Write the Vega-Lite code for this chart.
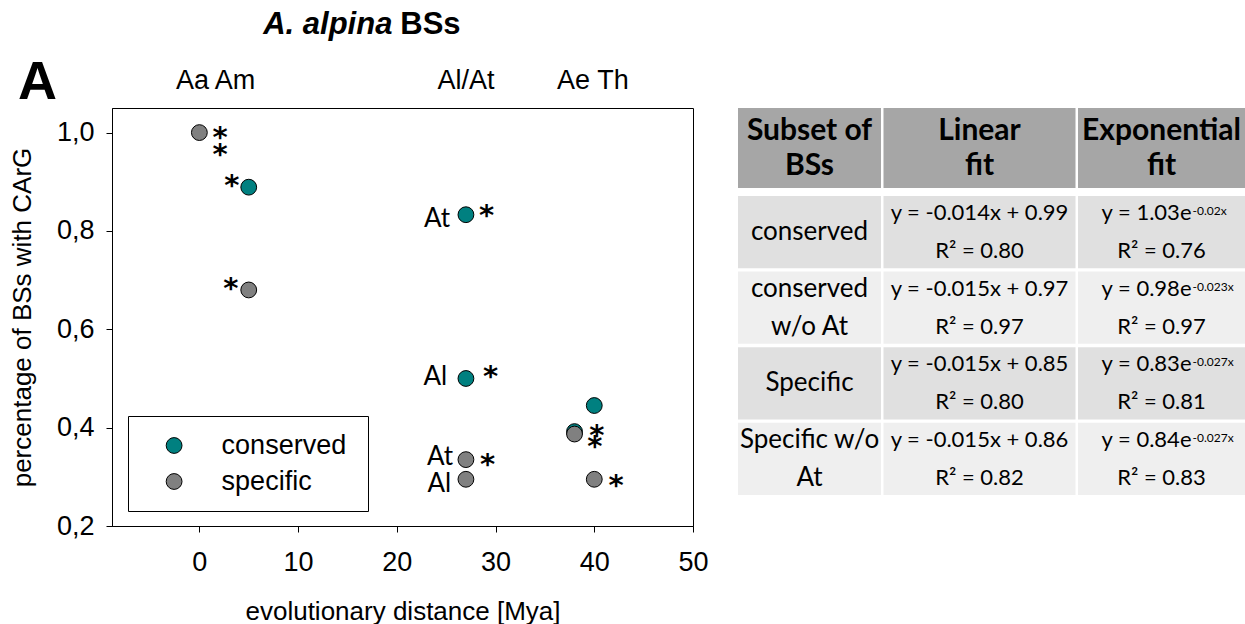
{
  "$schema": "https://vega.github.io/schema/vega-lite/v6.json",
  "background": "white",
  "padding": {"left": 8, "top": 8, "right": 0, "bottom": 0},
  "bounds": "flush",
  "spacing": 45,
  "config": {
    "view": {"stroke": null},
    "font": "Liberation Sans",
    "axisX": {
      "grid": false, "labelFlush": false,
      "domainColor": "black", "tickColor": "black", "tickSize": 6,
      "labelFont": "Liberation Sans", "labelFontSize": 27, "labelColor": "black", "labelPadding": 17,
      "titleFont": "Liberation Sans", "titleFontSize": 26, "titleFontWeight": "normal", "titleColor": "black", "titlePadding": 23
    },
    "axisY": {
      "grid": false, "labelFlush": false,
      "domainColor": "black", "tickColor": "black", "tickSize": 6,
      "labelFont": "Liberation Sans", "labelFontSize": 27, "labelColor": "black", "labelPadding": 12,
      "titleFont": "Liberation Sans", "titleFontSize": 26, "titleFontWeight": "normal", "titleColor": "black", "titlePadding": 21
    }
  },
  "datasets": {
    "points": [
      {"subset": "conserved", "mya": 5, "share": 0.889},
      {"subset": "conserved", "mya": 27, "share": 0.833},
      {"subset": "conserved", "mya": 27, "share": 0.5},
      {"subset": "conserved", "mya": 38, "share": 0.392},
      {"subset": "conserved", "mya": 40, "share": 0.445},
      {"subset": "specific", "mya": 0, "share": 1.0},
      {"subset": "specific", "mya": 5, "share": 0.68},
      {"subset": "specific", "mya": 27, "share": 0.335},
      {"subset": "specific", "mya": 27, "share": 0.295},
      {"subset": "specific", "mya": 38, "share": 0.387},
      {"subset": "specific", "mya": 40, "share": 0.295}
    ],
    "stars": [
      {"mya": 2.1, "share": 0.999},
      {"mya": 2.1, "share": 0.965},
      {"mya": 3.28, "share": 0.902},
      {"mya": 3.18, "share": 0.692},
      {"mya": 29.1, "share": 0.841},
      {"mya": 29.5, "share": 0.513},
      {"mya": 29.2, "share": 0.335},
      {"mya": 40.25, "share": 0.393},
      {"mya": 40.05, "share": 0.371},
      {"mya": 42.2, "share": 0.292}
    ],
    "pointLabels": [
      {"label": "At", "mya": 25.4, "share": 0.825},
      {"label": "Al", "mya": 25.1, "share": 0.503},
      {"label": "At", "mya": 25.7, "share": 0.34},
      {"label": "Al", "mya": 25.5, "share": 0.285}
    ],
    "species": [
      {"label": "Aa", "mya": -0.7},
      {"label": "Am", "mya": 3.6},
      {"label": "Al/At", "mya": 27},
      {"label": "Ae", "mya": 37.9},
      {"label": "Th", "mya": 41.9}
    ],
    "fits": [
      {"row": 1, "subset": "conserved", "linear": "y = -0.014x + 0.99\nR² = 0.80", "expBase": "y = 1.03e", "expPow": "-0.02x", "expR2": "R² = 0.76"},
      {"row": 2, "subset": "conserved\nw/o At", "linear": "y = -0.015x + 0.97\nR² = 0.97", "expBase": "y = 0.98e", "expPow": "-0.023x", "expR2": "R² = 0.97"},
      {"row": 3, "subset": "Specific", "linear": "y = -0.015x + 0.85\nR² = 0.80", "expBase": "y = 0.83e", "expPow": "-0.027x", "expR2": "R² = 0.81"},
      {"row": 4, "subset": "Specific w/o\nAt", "linear": "y = -0.015x + 0.86\nR² = 0.82", "expBase": "y = 0.84e", "expPow": "-0.027x", "expR2": "R² = 0.83"}
    ]
  },
  "hconcat": [
    {
      "width": 581,
      "height": 418,
      "view": {"stroke": "black", "strokeWidth": 1},
      "layer": [
        {
          "data": {"name": "points"},
          "mark": {"type": "point", "shape": "circle", "filled": true, "size": 250, "stroke": "black", "strokeWidth": 1, "opacity": 1},
          "encoding": {
            "x": {"field": "mya", "type": "quantitative", "scale": {"domain": [-8.85, 50], "nice": false, "zero": false},
              "axis": {"title": "evolutionary distance [Mya]", "values": [0, 10, 20, 30, 40, 50]}},
            "y": {"field": "share", "type": "quantitative", "scale": {"domain": [0.2, 1.05], "nice": false, "zero": false},
              "axis": {"title": "percentage of BSs with CArG", "values": [0.2, 0.4, 0.6, 0.8, 1.0], "labelExpr": "replace(format(datum.value, '.1f'), '.', ',')"}},
            "fill": {
              "field": "subset", "type": "nominal",
              "scale": {"domain": ["conserved", "specific"], "range": ["#008080", "#808080"]},
              "legend": {
                "title": "\u00a0", "titleOrient": "right", "titleFontSize": 8, "titlePadding": 6,
                "orient": "none", "legendX": 16, "legendY": 308,
                "strokeColor": "black", "fillColor": "white", "padding": 16,
                "symbolType": "circle", "symbolSize": 250, "symbolStrokeColor": "black", "symbolStrokeWidth": 1, "symbolOffset": 16.6,
                "labelFont": "Liberation Sans", "labelFontSize": 27, "labelColor": "black", "labelOffset": 34,
                "rowPadding": 8
              }
            }
          }
        },
        {
          "data": {"name": "stars"},
          "mark": {"type": "text", "font": "DejaVu Sans", "fontWeight": "bold", "fontSize": 29, "align": "center", "baseline": "middle", "dy": 5, "color": "black"},
          "encoding": {
            "x": {"field": "mya", "type": "quantitative", "scale": {"domain": [-8.85, 50], "nice": false, "zero": false},
              "axis": {"title": "evolutionary distance [Mya]", "values": [0, 10, 20, 30, 40, 50]}},
            "y": {"field": "share", "type": "quantitative", "scale": {"domain": [0.2, 1.05], "nice": false, "zero": false},
              "axis": {"title": "percentage of BSs with CArG", "values": [0.2, 0.4, 0.6, 0.8, 1.0], "labelExpr": "replace(format(datum.value, '.1f'), '.', ',')"}},
            "text": {"value": "*"}
          }
        },
        {
          "data": {"name": "pointLabels"},
          "mark": {"type": "text", "font": "Lato", "fontSize": 26, "align": "right", "baseline": "middle", "color": "black"},
          "encoding": {
            "x": {"field": "mya", "type": "quantitative", "scale": {"domain": [-8.85, 50], "nice": false, "zero": false},
              "axis": {"title": "evolutionary distance [Mya]", "values": [0, 10, 20, 30, 40, 50]}},
            "y": {"field": "share", "type": "quantitative", "scale": {"domain": [0.2, 1.05], "nice": false, "zero": false},
              "axis": {"title": "percentage of BSs with CArG", "values": [0.2, 0.4, 0.6, 0.8, 1.0], "labelExpr": "replace(format(datum.value, '.1f'), '.', ',')"}},
            "text": {"field": "label"}
          }
        },
        {
          "data": {"name": "species"},
          "mark": {"type": "text", "clip": false, "font": "Liberation Sans", "fontSize": 27, "align": "center", "baseline": "alphabetic", "color": "black"},
          "encoding": {
            "x": {"field": "mya", "type": "quantitative", "scale": {"domain": [-8.85, 50], "nice": false, "zero": false},
              "axis": {"title": "evolutionary distance [Mya]", "values": [0, 10, 20, 30, 40, 50]}},
            "y": {"datum": 1.089, "type": "quantitative", "scale": {"domain": [0.2, 1.05], "nice": false, "zero": false},
              "axis": {"title": "percentage of BSs with CArG", "values": [0.2, 0.4, 0.6, 0.8, 1.0], "labelExpr": "replace(format(datum.value, '.1f'), '.', ',')"}},
            "text": {"field": "label"}
          }
        },
        {
          "data": {"values": [{"t": "A. alpina"}]},
          "mark": {"type": "text", "clip": false, "font": "Liberation Sans", "fontSize": 31, "fontWeight": "bold", "fontStyle": "italic", "align": "right", "baseline": "alphabetic", "color": "black"},
          "encoding": {
            "x": {"datum": 19.55, "type": "quantitative", "scale": {"domain": [-8.85, 50], "nice": false, "zero": false},
              "axis": {"title": "evolutionary distance [Mya]", "values": [0, 10, 20, 30, 40, 50]}},
            "y": {"datum": 1.2, "type": "quantitative", "scale": {"domain": [0.2, 1.05], "nice": false, "zero": false},
              "axis": {"title": "percentage of BSs with CArG", "values": [0.2, 0.4, 0.6, 0.8, 1.0], "labelExpr": "replace(format(datum.value, '.1f'), '.', ',')"}},
            "text": {"field": "t"}
          }
        },
        {
          "data": {"values": [{"t": "BSs"}]},
          "mark": {"type": "text", "clip": false, "font": "Liberation Sans", "fontSize": 31, "fontWeight": "bold", "align": "left", "baseline": "alphabetic", "color": "black"},
          "encoding": {
            "x": {"datum": 20.35, "type": "quantitative", "scale": {"domain": [-8.85, 50], "nice": false, "zero": false},
              "axis": {"title": "evolutionary distance [Mya]", "values": [0, 10, 20, 30, 40, 50]}},
            "y": {"datum": 1.2, "type": "quantitative", "scale": {"domain": [0.2, 1.05], "nice": false, "zero": false},
              "axis": {"title": "percentage of BSs with CArG", "values": [0.2, 0.4, 0.6, 0.8, 1.0], "labelExpr": "replace(format(datum.value, '.1f'), '.', ',')"}},
            "text": {"field": "t"}
          }
        },
        {
          "data": {"values": [{"t": "A"}]},
          "mark": {"type": "text", "clip": false, "font": "Liberation Sans", "fontSize": 54, "fontWeight": "bold", "align": "left", "baseline": "alphabetic", "color": "black"},
          "encoding": {
            "x": {"datum": -18.37, "type": "quantitative", "scale": {"domain": [-8.85, 50], "nice": false, "zero": false},
              "axis": {"title": "evolutionary distance [Mya]", "values": [0, 10, 20, 30, 40, 50]}},
            "y": {"datum": 1.068, "type": "quantitative", "scale": {"domain": [0.2, 1.05], "nice": false, "zero": false},
              "axis": {"title": "percentage of BSs with CArG", "values": [0.2, 0.4, 0.6, 0.8, 1.0], "labelExpr": "replace(format(datum.value, '.1f'), '.', ',')"}},
            "text": {"field": "t"}
          }
        }
      ]
    },
    {
      "spacing": 8,
      "vconcat": [
        {
          "bounds": "flush",
          "spacing": 2.5,
          "hconcat": [
            {
              "width": 143, "height": 80,
              "data": {"values": [{"h": "Subset of\nBSs"}]},
              "layer": [
                {"mark": {"type": "rect", "color": "#a6a6a6"}, "encoding": {"x": {"value": 0}, "x2": {"value": "width"}, "y": {"value": 0}, "y2": {"value": "height"}}},
                {"mark": {"type": "text", "font": "Lato", "fontWeight": "bold", "fontSize": 30, "lineHeight": 35, "lineBreak": "\n", "baseline": "middle", "dy": -17.5, "color": "black"}, "encoding": {"text": {"field": "h"}}}
              ]
            },
            {
              "width": 192, "height": 80,
              "data": {"values": [{"h": "Linear\nfit"}]},
              "layer": [
                {"mark": {"type": "rect", "color": "#a6a6a6"}, "encoding": {"x": {"value": 0}, "x2": {"value": "width"}, "y": {"value": 0}, "y2": {"value": "height"}}},
                {"mark": {"type": "text", "font": "Lato", "fontWeight": "bold", "fontSize": 30, "lineHeight": 35, "lineBreak": "\n", "baseline": "middle", "dy": -17.5, "color": "black"}, "encoding": {"text": {"field": "h"}}}
              ]
            },
            {
              "width": 167, "height": 80,
              "data": {"values": [{"h": "Exponential\nfit"}]},
              "layer": [
                {"mark": {"type": "rect", "color": "#a6a6a6"}, "encoding": {"x": {"value": 0}, "x2": {"value": "width"}, "y": {"value": 0}, "y2": {"value": "height"}}},
                {"mark": {"type": "text", "font": "Lato", "fontWeight": "bold", "fontSize": 30, "lineHeight": 35, "lineBreak": "\n", "baseline": "middle", "dy": -17.5, "color": "black"}, "encoding": {"text": {"field": "h"}}}
              ]
            }
          ]
        },
        {
          "bounds": "flush",
          "spacing": 2.5,
          "hconcat": [
            {
              "width": 143, "height": 299,
              "data": {"name": "fits"},
              "encoding": {"y": {"field": "row", "type": "ordinal", "axis": null, "scale": {"paddingInner": 0.046, "paddingOuter": 0}}},
              "layer": [
                {"mark": {"type": "rect"}, "encoding": {"x": {"value": 0}, "x2": {"value": "width"}, "color": {"condition": {"test": "datum.row % 2 == 1", "value": "#e0e0e0"}, "value": "#efefef"}}},
                {"transform": [{"filter": "indexof(datum.subset, '\\n') < 0"}], "mark": {"type": "text", "font": "Lato", "fontSize": 26, "baseline": "middle", "color": "black"}, "encoding": {"text": {"field": "subset"}}},
                {"transform": [{"filter": "indexof(datum.subset, '\\n') >= 0"}], "mark": {"type": "text", "font": "Lato", "fontSize": 26, "lineHeight": 38, "lineBreak": "\n", "baseline": "middle", "dy": -19, "color": "black"}, "encoding": {"text": {"field": "subset"}}}
              ]
            },
            {
              "width": 192, "height": 299,
              "data": {"name": "fits"},
              "encoding": {"y": {"field": "row", "type": "ordinal", "axis": null, "scale": {"paddingInner": 0.046, "paddingOuter": 0}}},
              "layer": [
                {"mark": {"type": "rect"}, "encoding": {"x": {"value": 0}, "x2": {"value": "width"}, "color": {"condition": {"test": "datum.row % 2 == 1", "value": "#e0e0e0"}, "value": "#efefef"}}},
                {"mark": {"type": "text", "font": "Lato", "fontSize": 22, "lineHeight": 38, "lineBreak": "\n", "baseline": "middle", "dy": -19, "color": "black"}, "encoding": {"text": {"field": "linear"}}}
              ]
            },
            {
              "width": 167, "height": 299,
              "data": {"name": "fits"},
              "encoding": {"y": {"field": "row", "type": "ordinal", "axis": null, "scale": {"paddingInner": 0.046, "paddingOuter": 0}}},
              "layer": [
                {"mark": {"type": "rect"}, "encoding": {"x": {"value": 0}, "x2": {"value": "width"}, "color": {"condition": {"test": "datum.row % 2 == 1", "value": "#e0e0e0"}, "value": "#efefef"}}},
                {"mark": {"type": "text", "font": "Lato", "fontSize": 22, "align": "right", "baseline": "middle", "dx": 30, "dy": -19, "color": "black"}, "encoding": {"text": {"field": "expBase"}}},
                {"mark": {"type": "text", "font": "Lato", "fontSize": 12, "align": "left", "baseline": "middle", "dx": 31, "dy": -21, "color": "black"}, "encoding": {"text": {"field": "expPow"}}},
                {"mark": {"type": "text", "font": "Lato", "fontSize": 22, "align": "center", "baseline": "middle", "dy": 19, "color": "black"}, "encoding": {"text": {"field": "expR2"}}}
              ]
            }
          ]
        }
      ]
    }
  ]
}
